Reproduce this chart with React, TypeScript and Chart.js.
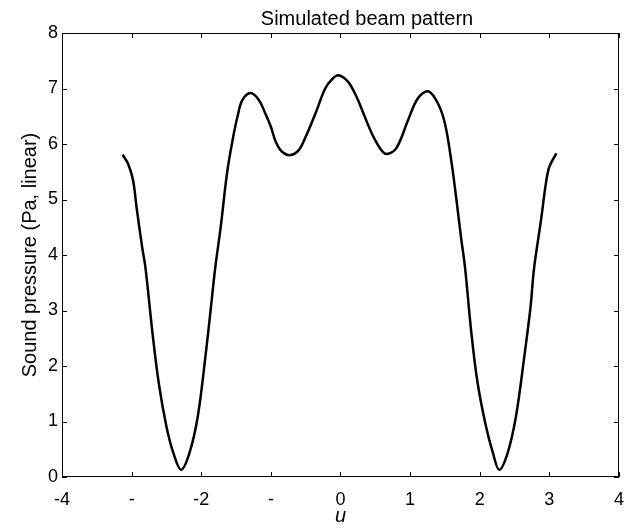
import React, { useEffect, useRef } from "react";
import { Chart, registerables } from "chart.js";

Chart.register(...registerables);

const TITLE = "Simulated beam pattern";
const X_LABEL = "u";
const Y_LABEL = "Sound pressure (Pa, linear)";

const xTickValues = [-4, -3, -2, -1, 0, 1, 2, 3, 4];
const xTickLabels = ["-4", "-", "-2", "-", "0", "1", "2", "3", "4"];
const yTickValues = [0, 1, 2, 3, 4, 5, 6, 7, 8];
const yTickLabels = ["0", "1", "2", "3", "4", "5", "6", "7", "8"];

const uValues = [
  -3.13, -3.05, -2.98, -2.93, -2.85, -2.8, -2.7, -2.61, -2.5, -2.4, -2.29, -2.17, -2.05, -1.94,
  -1.86, -1.8, -1.72, -1.63, -1.55, -1.48, -1.41, -1.29, -1.17, -1.08, -1.0, -0.93, -0.84,
  -0.72, -0.6, -0.5, -0.36, -0.22, -0.12, -0.03, 0.11, 0.23, 0.33, 0.45, 0.57, 0.66, 0.8,
  0.97, 1.11, 1.26, 1.4, 1.5, 1.59, 1.66, 1.73, 1.79, 1.88, 1.97, 2.09, 2.19, 2.28, 2.4,
  2.52, 2.64, 2.73, 2.78, 2.88, 2.95, 3.0, 3.1,
];
const pressure = [
  5.81, 5.64, 5.35, 4.87, 4.15, 3.76, 2.59, 1.69, 0.91, 0.43, 0.13, 0.43, 1.09, 2.17,
  3.07, 3.76, 4.51, 5.47, 6.07, 6.49, 6.79, 6.92, 6.79, 6.55, 6.31, 6.04, 5.86,
  5.8, 5.89, 6.13, 6.55, 7.0, 7.17, 7.24, 7.12, 6.85, 6.55, 6.19, 5.92, 5.82, 5.92,
  6.43, 6.82, 6.95, 6.73, 6.37, 5.71, 5.05, 4.33, 3.76, 2.59, 1.69, 0.91, 0.43, 0.13, 0.43,
  1.09, 2.17, 3.07, 3.76, 4.63, 5.29, 5.59, 5.83,
];

const FONT = "'Liberation Sans', Arial, Helvetica, sans-serif";

const framePlugin = {
  id: "frame",
  afterDraw(chart: any) {
    const { ctx, chartArea, scales } = chart;
    const left = Math.round(chartArea.left);
    const right = Math.round(chartArea.right);
    const top = Math.round(chartArea.top);
    const bottom = Math.round(chartArea.bottom);
    ctx.save();
    ctx.strokeStyle = "#000";
    ctx.lineWidth = 1;
    ctx.strokeRect(left + 0.5, top + 0.5, right - left - 1, bottom - top - 1);
    const tl = 5;
    ctx.beginPath();
    xTickValues.forEach((v) => {
      const px = Math.round(scales.x.getPixelForValue(v)) + 0.5;
      ctx.moveTo(px, bottom);
      ctx.lineTo(px, bottom - tl);
      ctx.moveTo(px, top);
      ctx.lineTo(px, top + tl);
    });
    yTickValues.forEach((v) => {
      const py = Math.round(scales.y.getPixelForValue(v)) + 0.5;
      ctx.moveTo(left, py);
      ctx.lineTo(left + tl, py);
      ctx.moveTo(right, py);
      ctx.lineTo(right - tl, py);
    });
    ctx.stroke();
    ctx.fillStyle = "#000";
    ctx.font = `20px ${FONT}`;
    ctx.textAlign = "center";
    ctx.textBaseline = "alphabetic";
    ctx.fillText(TITLE, 367, 25);
    ctx.restore();
  },
};

export default function App() {
  const canvasRef = useRef<HTMLCanvasElement | null>(null);

  useEffect(() => {
    const canvas = canvasRef.current;
    if (!canvas) return;
    const points = uValues.map((u, i) => ({ x: u, y: pressure[i] }));
    const chart = new Chart(canvas, {
      type: "line",
      data: {
        datasets: [
          {
            data: points,
            borderColor: "#000",
            borderWidth: 2.5,
            pointRadius: 0,
            fill: false,
            tension: 0.35,
          },
        ],
      },
      options: {
        responsive: false,
        animation: false,
        layout: { padding: { top: 33, right: 14, left: 0, bottom: 0 } },
        plugins: {
          legend: { display: false },
          title: { display: false },
          tooltip: { enabled: false },
        },
        scales: {
          x: {
            type: "linear",
            min: -4,
            max: 4,
            grid: { display: false, drawTicks: false },
            border: { display: false },
            afterFit: (scale: any) => {
              scale.height = 52;
            },
            afterBuildTicks: (scale: any) => {
              scale.ticks = xTickValues.map((v) => ({ value: v }));
            },
            ticks: {
              autoSkip: false,
              maxRotation: 0,
              padding: 12,
              color: "#000",
              font: { family: FONT, size: 18 },
              callback: (value: any) => {
                const idx = xTickValues.indexOf(Number(value));
                return idx >= 0 ? xTickLabels[idx] : "";
              },
            },
            title: {
              display: true,
              text: X_LABEL,
              color: "#000",
              font: { family: FONT, size: 20, style: "italic", lineHeight: 1 },
              padding: { top: 0, bottom: 3 },
            },
          },
          y: {
            type: "linear",
            min: 0,
            max: 8,
            grid: { display: false, drawTicks: false },
            border: { display: false },
            afterFit: (scale: any) => {
              scale.width = 62;
            },
            afterBuildTicks: (scale: any) => {
              scale.ticks = yTickValues.map((v) => ({ value: v }));
            },
            ticks: {
              autoSkip: false,
              padding: 4,
              color: "#000",
              font: { family: FONT, size: 18 },
              callback: (value: any) => {
                const idx = yTickValues.indexOf(Number(value));
                return idx >= 0 ? yTickLabels[idx] : "";
              },
            },
            title: {
              display: true,
              text: Y_LABEL,
              color: "#000",
              font: { family: FONT, size: 20, lineHeight: 1 },
              padding: { top: 20, bottom: 0 },
            },
          },
        },
      },
      plugins: [framePlugin],
    } as any);
    return () => chart.destroy();
  }, []);

  return (
    <div style={{ position: "absolute", left: 0, top: 0, width: 636, height: 529, background: "#fff" }}>
      <canvas ref={canvasRef} width={636} height={529} />
    </div>
  );
}
